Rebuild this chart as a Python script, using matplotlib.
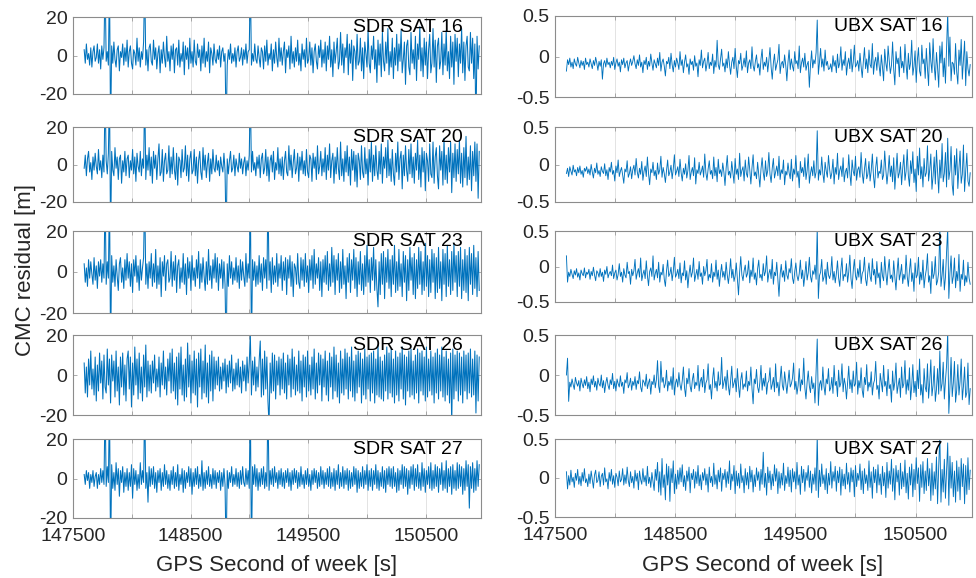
import numpy as np
import matplotlib
matplotlib.use('Agg')
import matplotlib.pyplot as plt

# ---- data (360 samples per satellite) ----
t_first = 147595
t_last = 150955

sdr16 = [3, -4, 6, -2, 1, -5, 4, -6, 2, 5, -3, -1, 6, -4, 3, -7, 5, -2, 4, 40,
         -3, 2, -5, 40, -40, 5, -4, 7, -2, -6, 3, 5, -8, 2, -1, 6, -5, 4, -3, 8,
         -6, 2, 5, -4, -7, 3, 1, -5, 9, -3, 4, -6, 2, -2, 7, 40, -5, 3, -8, 4,
         6, -3, -5, 8, -2, 4, -7, 1, 5, -9, 3, -4, 7, -1, -6, 10, -3, 2, -8, 5,
         -2, 6, -9, 3, 4, -5, 8, -6, 1, -3, 7, -10, 5, -2, 4, -7, 9, -4, 2, -6,
         8, -3, -5, 6, -1, 3, -8, 5, -4, 9, -6, 2, -3, 7, -9, 4, 1, -5, 6, -2,
         -4, 3, -2, 5, -6, 2, 4, -3, 1, -40, -5, 3, -2, 6, -4, 1, -3, 4, -6, 2,
         5, -3, -1, 4, -5, 3, -2, 6, -4, 2, 3, 40, -5, 1, -3, 6, -2, -4, 5, -1,
         -6, 4, 2, -7, 5, -3, 8, -5, 1, -2, 6, -8, 3, -4, 7, -1, -6, 9, -3, 4,
         -5, 2, 7, -9, 3, -1, 5, -7, 10, -4, 2, -6, 4, -3, 8, -5, 1, -8, 6, -2,
         3, -6, 9, -4, -2, 7, -5, 4, -9, 2, 6, -3, -7, 5, -1, 8, -6, 3, -4, 7,
         -8, 5, -2, 10, -6, 3, -11, 7, -4, 2, 9, -7, -3, 12, -5, 6, -9, 4, -1, 11,
         -10, 6, -4, 8, -13, 5, 2, -7, 11, -5, -3, 9, -8, 4, -12, 7, 1, -6, 13, -4,
         -9, 5, -2, 10, -7, 3, -14, 8, -5, 6, -11, 12, -3, -8, 7, -4, 14, -10, 2, -6,
         9, -12, 4, -5, 11, -8, 6, -3, 13, -9, -2, 7, -15, 5, 8, -6, -10, 12, -4, 3,
         -7, 10, -13, 6, -2, 15, -8, 4, -11, 9, -5, 7, -12, 3, 11, -9, -4, 14, -6, 8,
         -14, 5, 9, -7, -3, 12, -10, 6, -5, 13, -8, 2, -12, 10, -6, 7, -15, 11, -3, 9,
         -11, 6, -4, 14, -9, 7, -13, 5, 10, -6, -8, 12, -4, 9, -12, 6, -40, 10, -7, 5]

sdr20 = [-2, 5, -6, 3, 7, -4, 1, -8, 4, -3, 6, -1, -5, 8, -3, 2, -7, 5, -4, 40,
         2, -5, 6, 40, -40, 7, -3, -6, 9, -2, 4, -8, 3, 5, -10, 2, -4, 7, -6, 3,
         5, -7, 2, -3, 8, -5, 4, -9, 6, -1, -4, 7, -6, 3, -2, 40, -8, 5, -3, 9,
         -6, 4, -10, 7, -2, 5, -8, 3, 11, -6, -4, 8, -9, 2, 6, -5, -3, 10, -7, 4,
         -5, 9, -3, -8, 6, -11, 4, 2, -7, 8, -4, -2, 10, -6, 5, -9, 3, 7, -5, -3,
         8, -6, 4, -10, 2, 7, -4, -8, 9, -3, 5, -7, 1, 6, -9, 3, -5, 8, -2, -4,
         5, -3, 2, -6, 4, -1, -4, 6, -3, -40, 3, -5, 2, 7, -4, -2, 5, -6, 3, -1,
         -4, 6, -2, 3, -5, 1, 4, -6, 2, -3, 5, 40, -4, 7, -3, 1, -6, 4, -2, 5,
         -7, 3, 6, -5, -2, 8, -6, 4, -9, 2, 5, -4, 7, -8, 1, -3, 9, -5, 3, -6,
         4, -8, 2, 7, -4, -6, 10, -3, 5, -7, 1, 8, -5, -2, 6, -9, 4, -3, 7, -5,
         2, -6, 8, -4, -7, 5, 3, -9, 6, -2, 4, -8, 10, -5, -1, 7, -6, 3, -4, 9,
         -8, 5, -3, 11, -7, 2, 6, -10, 4, -5, 9, -2, -8, 12, -6, 3, -9, 7, -4, 10,
         -6, 4, -11, 8, -3, 7, -9, 5, -12, 6, 2, -8, 10, -4, -7, 9, -5, 3, -11, 8,
         -4, 12, -9, 5, -6, 10, -3, -8, 7, -5, 11, -10, 4, -2, 9, -7, 13, -6, 3, -9,
         8, -5, -11, 6, -4, 12, -8, 3, 7, -13, 5, -6, 10, -3, -9, 8, -5, 11, -7, 4,
         -10, 6, -3, 13, -8, 5, -12, 9, -4, 7, -14, 6, 2, -9, 11, -5, -7, 12, -10, 4,
         9, -6, -13, 10, -3, 7, -11, 14, -8, 5, -10, 9, -4, 12, -15, 6, -7, 11, -9, 8,
         -5, 13, -10, 6, -12, 9, -7, 15, -11, 4, -8, 10, -14, 7, -6, 12, -9, 11, -18, 7]

sdr23 = [4, -5, 2, -7, 6, -3, 5, -1, -6, 7, -4, 3, -8, 5, -2, 6, -5, 4, -3, 40,
         -6, 5, -3, 40, -40, 8, -5, 3, -7, 6, -2, -9, 4, 7, -5, 2, -8, 6, -4, 9,
         -3, 5, -7, 4, -10, 6, -2, 8, -5, 3, -9, 6, -4, 2, 7, 40, -6, 4, -8, 5,
         -3, 9, -7, 4, -5, 11, -8, 3, -6, 7, -12, 5, -2, 8, -9, 4, 6, -5, -3, 10,
         -7, 5, -4, 8, -10, 3, 6, -8, 2, -5, 9, -6, 4, -11, 7, -3, 5, -9, 8, -4,
         2, -7, 6, -3, 10, -8, 4, -5, 7, -2, -9, 5, -6, 11, -4, 3, -8, 6, -3, 9,
         -5, 7, -9, 4, -3, 6, -8, 5, -6, -40, 4, -7, 8, -3, 5, -6, 2, -4, 7, -5,
         3, -8, 6, -4, 5, -2, -7, 9, -5, 4, -3, 40, -40, 6, -4, 5, -7, 3, -6, 8,
         -5, 4, -9, 7, -3, 6, -8, 40, -4, 5, -10, 7, -6, 3, -5, 9, -7, 4, -3, 8,
         -9, 5, -4, 7, -11, 6, -3, 8, -7, 5, -12, 4, 2, -6, 9, -5, -8, 7, -4, 6,
         -7, 9, -5, 3, -10, 6, -4, 8, -8, 11, -6, 4, -3, 7, -9, 5, -12, 6, -5, 8,
         -6, 10, -9, 4, -7, 12, -5, 8, -11, 6, -4, 9, -10, 5, -8, 11, -6, 3, -13, 7,
         -5, 9, -10, 6, -4, 11, -8, 7, -12, 5, -6, 10, -9, 4, -11, 8, -7, 13, -5, 6,
         -10, 7, -4, 12, -9, 6, -8, -17, 5, -11, 9, -6, 10, -13, 7, -5, 11, -8, 6, -12,
         8, -6, 13, -10, 5, -9, 11, -7, 4, -12, 10, -5, 8, -14, 6, -9, 12, -4, 7, -11,
         9, -13, 6, -8, 12, -6, 10, -11, 5, -9, 14, -7, 8, -12, 6, -10, 11, -5, 9, -13,
         7, -10, 12, -8, 5, -14, 11, -6, 9, -12, 13, -7, 6, -11, 10, -9, 14, -5, 8, -12,
         10, -7, 12, -13, 6, -9, 11, -10, 8, -14, 12, -6, 9, -11, 13, -8, 7, -12, 10, -9]

sdr26 = [6, -9, 4, -11, 8, -5, 12, -7, 3, -10, 9, -13, 5, -8, 11, -4, 7, -12, 10, -6,
         -9, 13, -5, 8, -14, 10, -3, 7, -11, 12, -8, 4, -15, 9, -6, 11, -10, 5, -13, 8,
         12, -7, 9, -16, 6, -10, 14, -5, 8, -12, 11, -9, 4, -13, 10, -6, 15, -11, 7, -8,
         5, -9, 7, -4, 10, -8, 3, -6, 9, -11, 6, -5, 12, -7, 4, -10, 8, -3, 11, -9,
         13, -8, 6, -12, 9, -15, 11, -7, 14, -10, 5, -13, 8, -11, 16, -6, 10, -14, 7, -9,
         12, -10, 8, -16, 11, -6, 13, -12, 7, -9, 15, -11, 6, -14, 10, -8, 12, -13, 9, -7,
         7, -5, 9, -8, 4, -7, 6, -3, 8, -9, 5, -6, 7, -4, 10, -8, 3, -7, 6, -5,
         8, -6, 4, -9, 7, -3, 5, -8, 9, -4, 6, 20, -10, 7, -5, 9, -8, 4, -6, 7,
         17, -11, 8, -10, 12, -7, 9, -13, -25, 6, -9, 11, -8, 10, -12, 7, -5, 9, -10, 8,
         -7, 11, -9, 6, -12, 10, -5, 8, -11, 13, -7, 9, -10, 5, -8, 12, -9, 7, -13, 10,
         -6, 9, -11, 12, -8, 5, -10, 9, -7, 13, -12, 6, -9, 11, -5, 10, -13, 8, -6, 12,
         -10, 7, -13, 11, -6, 9, -12, 14, -8, 10, -11, 6, -14, 12, -9, 8, -10, 13, -7, 11,
         -12, 9, -8, 14, -11, 7, -13, 10, -9, 12, -6, 11, -14, 8, -10, 13, -12, 9, -7, 10,
         -13, 11, -9, 12, -14, 8, -10, 15, -11, 9, -12, 7, -13, 10, -8, 14, -12, 11, -9, 13,
         -11, 8, -14, 12, -10, 9, -13, 11, -7, 14, -12, 10, -15, 9, -8, 12, -11, 13, -10, 7,
         -12, 10, -9, 13, -14, 11, -8, 12, -10, 9, -13, 14, -11, 8, -8, 12, -10, 9, -14, 11,
         -9, 13, -12, 10, -8, 14, -11, 9, -13, 12, -10, 8, -14, 11, -25, 13, -12, 10, -8, 12,
         -13, 11, -10, 9, -14, 12, -8, 10, -12, 11, -9, 13, -11, 8, -10, 12, -19, 10, -13, 9]

sdr27 = [2, -3, 4, -1, 3, -5, 2, -2, 4, -4, 1, 3, -5, 2, -3, 5, -2, 4, -3, 40,
         -4, 6, -2, 40, -40, 7, -5, 3, -6, 8, -3, 5, -9, 4, -2, 6, -7, 3, -4, 5,
         -6, 3, -4, 7, -10, 5, -3, 4, -6, 2, -5, 8, -3, 4, -2, 40, -5, 3, -12, 6,
         -4, 5, -3, 6, -5, 3, -7, 4, -2, 5, -6, 3, -4, 7, -3, 4, -5, 2, -6, 4,
         -3, 6, -5, 3, -4, 7, -6, 2, -3, 5, -7, 4, -5, 3, -2, 6, -4, 5, -8, 3,
         -4, 5, -3, 6, -5, 2, -4, 9, -6, 3, -5, 4, -3, 6, -4, 2, -5, 5, -3, 4,
         -5, 3, -2, 4, -6, 3, -4, 5, -3, -40, 4, -5, 3, -2, 6, -4, 2, -3, 5, -4,
         3, -5, 4, -3, 6, -2, -4, 5, -3, 4, -5, 40, -40, 6, -3, 7, -4, 5, -6, 3,
         -4, 5, -3, 6, -5, 3, -4, 40, -6, 4, -3, 5, -4, 6, -2, 3, -5, 4, -3, 5,
         -4, 3, -5, 4, -2, 5, -4, 3, -6, 4, -3, 5, -2, 4, -5, 3, -4, 6, -3, 2,
         -5, 4, -3, 5, -4, 2, -6, 4, -3, 5, -2, 4, -5, 3, -4, 6, -3, 4, -5, 3,
         -3, 5, -4, 6, -5, 3, -4, 5, -6, 4, -3, 7, -5, 3, -4, 6, -5, 4, -3, 5,
         -6, 4, -5, 3, -4, 6, -3, 5, -7, 4, -5, 3, -4, 6, -5, 4, -3, 7, -6, 4,
         -4, 5, -6, 4, -3, 7, -5, 4, -6, 3, -4, 6, -5, 4, -7, 5, -3, 6, -4, 5,
         -5, 6, -4, 3, -7, 5, -6, 4, -3, 7, -5, 6, -4, 5, -8, 4, -5, 6, -3, 7,
         -6, 5, -4, 7, -5, 3, -6, 8, -4, 5, -7, 4, -3, 6, -5, 8, -6, 4, -5, 7,
         -4, 6, -7, 5, -3, 8, -6, 4, -5, 9, -7, 5, -4, 6, -8, 7, -5, 4, -6, 8,
         -5, 7, -4, 6, -8, 5, -6, 9, -4, 7, -15, 6, -5, 8, -7, 5, -6, 9, -4, 7]

# u-blox residuals in cm
ubx16_cm = [-18, -4, -10, -2, -13, -7, -15, -3, -9, -12, -1, -8, -14, -5, -11, -6, -16, -2, -10, -7,
            -13, -3, -9, -15, -5, -11, -1, -8, -17, -6, -12, -4, -28, -9, -5, -13, -2, -10, -7, -14,
            -6, -11, -1, -16, -8, -3, -12, -7, -19, -4, -10, -2, -14, -8, -5, -18, -9, -3, -11, -6,
            1, -9, -15, -4, -11, 2, -13, -7, -20, -5, -10, -1, -16, -6, -12, 3, -8, -17, -4, -9,
            -14, -2, -11, 5, -18, -7, -3, -12, -24, -6, -9, -1, -15, 4, -10, -19, -5, -13, -2, -8,
            -16, 6, -11, -4, -20, -7, 2, -13, -9, -22, -3, -10, -6, -17, 1, -12, -8, -25, -4, -11,
            8, -14, -6, -2, -18, -9, 5, -15, -7, -11, 3, -21, -5, -13, 20, -10, -16, -4, 9, -12,
            -8, -19, -3, -14, 6, -10, -22, -7, -1, -15, 10, -12, -26, -5, -9, 4, -17, -11, -2, -13,
            7, -20, -8, -4, -15, 12, -11, -18, -6, 2, -14, -9, -23, -3, 9, -16, -7, -12, -1, -19,
            -5, 11, -13, -28, -8, 3, -17, -10, -4, 15, -21, -9, -6, -14, 2, -11, -30, -7, 8, -16,
            -3, -12, -18, 6, -9, -5, -15, 13, -20, -8, -2, -13, 4, -17, -10, -6, -38, -11, 7, -14,
            -4, -9, 5, 45, -22, -7, 10, -13, -3, -18, 8, -11, -6, -16, -15, -9, -19, 1, -12, -5,
            -20, 3, -14, -8, 12, -17, -4, -11, 6, -23, -9, -2, -15, 9, -19, -7, 14, -13, -10, -5,
            -18, 4, -12, -26, -6, 11, -15, -3, -20, 8, -10, -14, 16, -22, -7, -1, -17, 5, -11, -24,
            2, -13, -30, 9, -8, -18, 13, -5, -21, -11, 18, -16, -35, 6, -9, -2, -25, 12, -14, -6,
            -20, 15, -10, -28, 4, -16, -8, 20, -23, -12, 7, -32, -5, 11, -18, -24, 14, -9, -3, -27,
            10, -15, -36, 17, -6, -20, 22, -11, -29, 5, -14, -38, 13, -8, 18, -25, -2, -33, 9, 55,
            -12, 24, -30, -7, -9, -22, 16, -19, -34, 8, -11, 21, -28, -4, 19, -36, 6, -15, -24, -10]

ubx20_cm = [-12, -5, -16, -3, -9, -14, -1, -10, -7, -15, -4, -11, -2, -13, -8, -17, -5, -9, -3, -12,
            -6, -14, 0, -10, -18, -5, -11, 2, -13, -8, -16, -3, -9, -12, 1, -15, -7, -20, -4, -10,
            3, -13, -8, -22, -2, -11, 6, -16, -9, -4, -14, -25, -6, -10, 5, -17, -12, -3, -19, -7,
            -1, -14, 8, -10, -18, -5, -13, 4, -21, -9, -2, -16, 10, -12, -27, -6, -11, 3, -15, -8,
            -20, 2, -13, -7, 11, -17, -4, -12, -24, -8, 6, -15, -10, -1, -19, -6, 13, -14, -9, -3,
            -16, 7, -11, -22, -5, -13, 1, -18, -8, 12, -20, -10, -4, -15, 9, -26, -7, -12, 3, -14,
            -9, -2, -17, 14, -11, -21, -6, 5, -13, -8, -19, 10, -15, -4, -23, 7, -12, -7, -16, 2,
            -10, -28, -5, 12, -14, -9, -18, 4, -11, -25, 8, -13, -6, -20, 15, -16, -8, -3, -22, 6,
            -12, -17, 10, -7, -26, -4, 13, -15, -10, -19, 3, -14, -30, -6, 9, -11, -21, 5, -16, -8,
            16, -13, -24, -5, 8, -18, -10, -2, -15, 11, -20, -7, -12, 6, -27, -9, -14, 2, -11, -19,
            7, -22, -6, -13, 12, -17, -9, -31, 4, -11, -4, -16, 9, -20, -8, 14, -25, -12, -3, -15,
            5, -18, -10, 45, -21, -7, -14, 10, -12, -24, 3, -9, -17, 12, -6, -19, -11, 7, -26, -4,
            -13, 15, -20, -8, -2, -16, 9, -23, -10, -5, -18, 13, -12, -28, 6, -9, -15, 11, -21, -7,
            -3, -17, 16, -11, -25, -6, 8, -19, -13, 4, -22, -8, 14, -15, -31, -4, 10, -18, -9, -12,
            6, -20, -14, 18, -7, -26, -10, 12, -16, -2, -23, 9, -33, -8, 15, -18, -11, 3, -27, -5,
            13, -21, -9, 20, -15, -29, 5, -12, 17, -24, -6, -36, 11, -14, 22, -19, -3, -30, 8, -16,
            -11, 25, -22, -7, 14, -33, -15, 10, -26, 19, -9, -38, 6, -18, 28, -23, -12, 16, -30, 35,
            -20, -8, 24, -27, -41, 12, -14, 21, -32, -5, 18, -25, -13, 26, -36, -9, 15, -22, -29, -11]

ubx23_cm = [15, -22, -8, -14, -4, -11, -17, -6, -12, -3, -15, -9, -19, -5, -10, -13, -2, -16, -8, -11,
            -4, -18, -7, -13, -1, -12, -20, -6, -9, -15, -3, -14, -8, -21, -5, -11, 0, -16, -10, -7,
            -13, 2, -17, -9, -5, -19, -11, 4, -14, -8, -22, -3, -12, -16, 6, -10, -7, -25, -4, -13,
            -6, 10, -18, -9, -3, -15, 12, -20, -11, -5, -17, 8, -13, -27, -7, -2, -14, 15, -19, -10,
            -4, -16, 6, -22, -8, -12, 3, -18, -28, -6, 9, -14, -10, -1, -20, -7, 13, -15, -11, -4,
            -17, 5, -23, -9, -13, 8, -19, -6, -30, -11, 2, -15, -8, 12, -21, -12, -4, -18, 7, -14,
            -9, -25, 0, -13, -6, 10, -20, -11, -16, 4, -22, -8, -14, 9, -18, -5, -28, -10, 3, -15,
            -7, -19, 6, -12, -24, -9, 11, -16, -4, -21, -13, 5, -17, -40, -8, 14, -12, -20, -6, 2,
            -15, -10, 8, -23, -5, -14, 12, -18, -9, -26, -3, 9, -16, -11, -20, 4, -13, -7, 15, -22,
            -10, -4, -17, 10, -25, -8, -13, 6, -19, -42, -11, 3, -15, -6, -21, 8, -12, -18, -3, -9,
            11, -16, -24, -7, 5, -13, -20, -10, 9, -17, -5, -28, -12, 7, -19, -9, 13, -14, -22, -6,
            -11, 2, -18, 55, -45, -13, -8, 10, -21, -15, -4, -25, 6, -12, -17, -9, 14, -19, -7, -23,
            -10, 8, -16, -28, -5, 12, -20, -11, -14, 4, -22, -8, 16, -17, -31, -6, 10, -13, -19, -3,
            -15, 9, -24, -10, -6, 13, -18, -27, -8, 5, -14, -21, 11, -12, -4, -25, 7, -16, -9, -30,
            6, -13, -20, 14, -9, -26, -5, 10, -17, -12, -22, 8, -15, -33, -7, 12, -19, -10, 3, -24,
            -11, -18, 16, -14, -28, -6, 11, -21, -9, -35, 5, -16, -12, 13, -25, -8, -19, 9, -30, -14,
            -4, 18, -22, -13, -38, 7, -17, -10, 14, -26, -20, -8, 55, -28, -12, 10, -33, -15, 20, 55,
            -45, -9, 15, -24, -14, 12, -30, -7, -20, 17, -35, -11, -18, 9, -27, -13, -22, 6, -16, -25]

ubx26_cm = [0, 21, -33, -9, -15, -5, -12, -18, -3, -10, -14, -7, -20, -4, -11, -16, -6, -13, -2, -17,
            -9, -21, -5, -12, -1, -15, -8, -19, -4, -11, -14, 0, -16, -7, -22, -10, -3, -13, -18, -6,
            -12, 2, -17, -8, -20, -5, -11, -15, -1, -14, -9, -23, -6, -10, 3, -16, -12, -4, -19, -8,
            -13, -2, -18, -7, -11, 4, -15, -21, -6, -9, -14, 1, -17, -10, -5, -24, -8, -12, 0, -16,
            -6, 18, -14, -22, 17, -9, -3, -16, -11, 6, -20, -8, -13, -2, -18, 9, -25, -10, -5, -15,
            3, -12, -19, -7, 10, -16, -27, -4, -11, 8, -14, -21, -6, 2, -17, -9, -13, 12, -20, -8,
            -3, -15, 7, -22, -10, -6, 14, -18, -12, -30, -5, 9, -16, -8, -20, 4, -13, -11, 22, -17,
            -9, -2, -19, 6, -14, -25, -7, 11, -16, -10, -4, -21, 8, -13, -28, -6, 3, -18, -11, -15,
            5, -20, -8, -13, 10, -17, -36, -5, -11, 7, -15, -22, -9, 12, -19, -4, -14, 2, -24, -10,
            -7, 9, -18, -12, -3, -21, 14, -16, -9, -26, -6, 11, -13, -19, 4, -10, -23, -8, 6, -15,
            -11, -4, 15, -18, -8, -24, -13, 8, -20, -6, -12, 21, -16, -30, -9, 5, -14, -22, -2, -17,
            -10, -35, 4, 45, -38, -12, -7, -19, 10, -14, -25, -5, -11, 8, -20, -16, -3, -23, 12, -13,
            -8, -27, 6, -15, -10, 14, -21, -4, -12, -30, -9, 11, -17, -6, -22, 5, -14, -11, 16, -24,
            -7, -16, 9, -19, -28, -3, -12, 13, -20, -9, -15, 4, -25, -11, -6, 17, -18, -13, -30, 2,
            -10, -21, 12, -14, -8, -26, 7, -17, -12, -34, 5, -19, -9, 15, -23, -13, -4, -28, 10, -16,
            -11, 18, -24, -6, -19, 9, -31, -14, 13, -22, -8, -27, 6, -17, 20, -25, -12, -35, 8, -15,
            -21, 14, -29, -9, 19, -26, -13, 11, -33, -18, 8, -24, 30, -20, -11, 16, -30, -7, 12, 55,
            -48, -15, 22, -27, -10, 17, -34, -19, 13, -25, -8, 20, -31, -14, 10, -28, -22, 15, -37, -17]

ubx27_cm = [8, -14, 3, -9, 10, -5, 1, -12, 6, -3, 11, -8, 2, -10, 7, -4, 12, -6, -1, -11,
            5, -7, 9, -2, -13, 4, 10, -6, -3, 8, -11, 2, 6, -9, 13, -5, -1, -14, 7, -4,
            11, -8, 3, -12, 6, 1, -10, 9, -5, -2, 12, -9, 4, -7, 14, -3, -11, 8, -6, 2,
            -13, 10, -4, 6, -15, 9, -2, -8, 12, -5, 3, -10, 15, -7, 1, -12, 7, -4, -16, 11,
            -3, 20, -18, 8, -22, 25, -12, 4, -28, 18, -9, 15, -30, 12, -6, 22, -20, 5, -14, 10,
            -8, 13, -5, 17, -11, 3, -16, 9, -4, 14, -19, 6, -2, 11, -13, 8, -7, 16, -10, 4,
            -15, 7, -3, 12, -9, 5, -18, 14, -6, 2, -11, 19, -8, 4, -14, 10, -5, 13, -17, 6,
            -2, 11, -12, 8, -7, 22, -15, 5, -4, 16, -20, 9, -10, 6, -13, 18, -6, 3, -19, 12,
            -9, 7, -14, 15, -5, 10, -18, 4, -11, 13, -3, 8, -16, 11, -8, 33, -12, 6, -22, 14,
            -6, 9, -15, 5, -10, 17, -4, 12, -20, 8, -13, 6, -9, 19, -16, 3, -7, 14, -11, 10,
            -18, 12, -5, 8, -14, 20, -9, 4, -21, 15, -6, 11, -17, 7, -3, 16, -12, 9, -19, 5,
            -8, 13, -16, 55, -25, 10, -11, 18, -7, 4, -15, 12, -20, 6, -9, 21, -13, 8, -4, 15,
            -17, 9, -6, 14, -22, 11, -10, 5, -14, 19, -8, 7, -18, 13, -5, 10, -24, 16, -11, 6,
            -3, 18, -15, 9, -20, 12, -7, 4, -16, 22, -12, 8, -26, 14, -6, 11, -19, 17, -9, 5,
            -21, 15, -10, 7, -25, 20, -13, 9, -8, 24, -17, 12, -28, 16, -5, 10, -22, 19, -14, 8,
            -11, 23, -19, 6, -27, 14, -9, 18, -24, 11, -15, 26, -7, 13, -30, 17, -12, 21, -20, 9,
            -16, 25, -10, 12, -29, 19, -22, 8, -14, 27, -33, 15, 55, -31, 11, -18, 24, -26, 10, 45,
            -35, 28, -13, 20, -24, 9, -31, 22, -17, 14, -28, 25, -11, 18, -33, 16, -21, 26, -15, 10]

sats = [16, 20, 23, 26, 27]
sdr_series = [sdr16, sdr20, sdr23, sdr26, sdr27]
ubx_series = [ubx16_cm, ubx20_cm, ubx23_cm, ubx26_cm, ubx27_cm]

# panel boxes in pixels (top, bottom) measured on the reference
left_x = (73, 481)
right_x = (555, 972)
left_rows = [(17, 94), (127, 202), (231, 313), (335, 415), (439, 518)]
right_rows = [(16, 97), (127, 202), (231, 302), (335, 415), (439, 517)]

W, H = 976, 578
LINE = '#0072BD'
TXT = '#262626'
EDGE = '#8c8c8c'

plt.rcParams['font.family'] = ['Liberation Sans', 'DejaVu Sans']
plt.rcParams['axes.unicode_minus'] = False

fig = plt.figure(figsize=(W / 100, H / 100), dpi=100)


def box(xs, row):
    l, r = xs
    t, b = row
    return [l / W, 1 - b / H, (r - l) / W, (b - t) / H]


def style(ax, yticks, ylabels, bottom):
    ax.set_xlim(147500, 150970)
    xt = np.arange(147500, 151000, 500)
    ax.set_xticks(xt)
    if bottom:
        ax.set_xticklabels([str(v) if (v - 147500) % 1000 == 0 else '' for v in xt])
    else:
        ax.set_xticklabels([])
    ax.set_yticks(yticks)
    ax.set_yticklabels(ylabels)
    ax.tick_params(direction='in', length=3, width=0.5, color=EDGE,
                   top=True, right=True, labelsize=14, labelcolor=TXT)
    ax.tick_params(axis='x', pad=7)
    ax.tick_params(axis='y', pad=4)
    ax.grid(True, axis='x', color='#dedede', lw=0.6)
    ax.set_axisbelow(True)
    for s in ax.spines.values():
        s.set_color(EDGE)
        s.set_linewidth(0.8)


for i in range(5):
    bottom = (i == 4)

    # SDR column
    ax = fig.add_axes(box(left_x, left_rows[i]))
    y = np.array(sdr_series[i], dtype=float)
    t = np.linspace(t_first, t_last, len(y))
    ax.plot(t, y, color=LINE, lw=0.75)
    ax.set_ylim(-20, 20)
    style(ax, [-20, 0, 20], ['-20', '0', '20'], bottom)
    ax.annotate('SDR SAT %d' % sats[i], xy=(1, 1), xycoords='axes fraction',
                xytext=(-18, -10.5), textcoords='offset pixels',
                ha='right', va='center', fontsize=14, color='black')

    # UBX column
    ax = fig.add_axes(box(right_x, right_rows[i]))
    y = np.array(ubx_series[i], dtype=float) / 100.0
    t = np.linspace(t_first, t_last, len(y))
    ax.plot(t, y, color=LINE, lw=0.65)
    ax.set_ylim(-0.5, 0.5)
    style(ax, [-0.5, 0, 0.5], ['-0.5', '0', '0.5'], bottom)
    ax.annotate('UBX SAT %d' % sats[i], xy=(1, 1), xycoords='axes fraction',
                xytext=(-29, -10.5), textcoords='offset pixels',
                ha='right', va='center', fontsize=14, color='black')

fig.text(277 / W, 1 - 565 / H, 'GPS Second of week [s]', ha='center', va='center',
         fontsize=16, color=TXT)
fig.text(763 / W, 1 - 565 / H, 'GPS Second of week [s]', ha='center', va='center',
         fontsize=16, color=TXT)
fig.text(26 / W, 1 - 270 / H, 'CMC residual [m]', ha='center', va='center',
         rotation=90, fontsize=16, color=TXT)

fig.savefig('out.png', dpi=100)
